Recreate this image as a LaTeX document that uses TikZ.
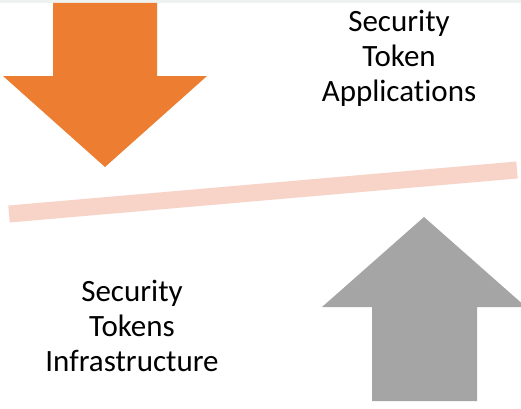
\documentclass[tikz,border=0pt]{standalone}
\usepackage{fontspec}
\setmainfont[Ligatures=NoCommon]{Carlito}
\definecolor{arroworange}{HTML}{ED7D31}
\definecolor{arrowgray}{HTML}{A5A5A5}
\definecolor{barpink}{HTML}{F8D4C8}
\definecolor{topband}{HTML}{EEF2F0}
\begin{document}
\begin{tikzpicture}[x=1pt,y=1pt,
  label text/.style={align=center,font=\fontsize{31}{35}\selectfont,inner sep=0pt,anchor=base}]
\useasboundingbox (0,0) rectangle (521,408);
\fill[white] (0,0) rectangle (521,408);
\fill[topband] (0,405) rectangle (521,408);
% orange down arrow
\fill[arroworange] (53,405) -- (157,405) -- (157,332) -- (207,332) -- (105,241) -- (3,332) -- (53,332) -- cycle;
% pink bar
\coordinate (barL) at (9,194);
\coordinate (barR) at (517,238);
\draw[barpink,line width=17pt] (barL) -- (barR);
% gray up arrow
\fill[arrowgray] (372,7) -- (477,7) -- (477,101) -- (526,101) -- (424,191) -- (322,101) -- (372,101) -- cycle;
\node[label text] (apps) at (399,307) {Security\\Token\\Applications};
\node[label text] (infra) at (132,37) {Security\\Tokens\\Infrastructure};
\end{tikzpicture}
\end{document}
